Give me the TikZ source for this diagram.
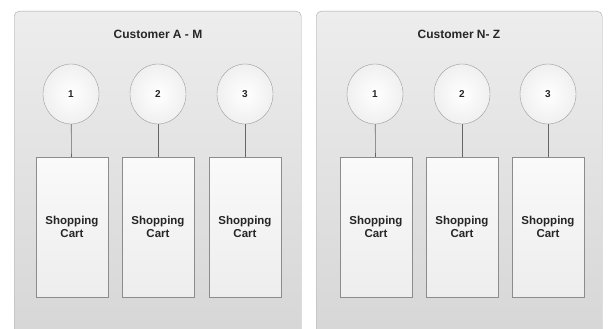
\documentclass[tikz,border=0pt]{standalone}
\usepackage{fontspec}
\setmainfont{Liberation Sans}
\usetikzlibrary{shapes.geometric}
\definecolor{frameline}{HTML}{A8A8A8}
\definecolor{paneltop}{HTML}{EDEDED}
\definecolor{panelbot}{HTML}{D6D6D6}
\definecolor{slotedge}{HTML}{9A9A9A}
\definecolor{cartedge}{HTML}{8C8C8C}
\begin{document}
\begin{tikzpicture}[x=1pt,y=-1pt,
            every node/.style = {font=\bfseries, text=black!85},
            panel/.style = {draw=frameline, rounded corners=5pt, top color=paneltop, bottom color=panelbot,
                            minimum width=287pt, minimum height=330pt, anchor=north west, inner sep=0pt},
            title/.style = {font=\bfseries\fontsize{12}{14}\selectfont},
            slot/.style = {ellipse, draw=slotedge, minimum width=56pt, minimum height=60pt,
                           inner color=white, outer color=black!6, font=\bfseries\fontsize{10}{12}\selectfont},
            cart/.style = {draw=cartedge, minimum width=72pt, minimum height=140pt, inner sep=0pt,
                           top color=black!2, bottom color=black!7, align=center,
                           font=\bfseries\fontsize{11.5}{13}\selectfont},
            link/.style = {draw=black!60, line width=0.6pt}]
            \useasboundingbox[fill=white] (0,0) rectangle (608,329);
            % customer groups
            \node[panel] (groupA) at (14,11) {};
            \node[panel, minimum width=286pt] (groupN) at (316,11) {};
            \node[title] (titleA) at (158,34) {Customer A - M};
            \node[title] (titleN) at (459,34) {Customer N- Z};
            % slots with their carts
            \foreach \g/\xa/\xb/\xc in {A/71/158/245, N/375/462/548} {
                \node[slot] (\g1) at (\xa,94) {1};
                \node[slot] (\g2) at (\xb,94) {2};
                \node[slot] (\g3) at (\xc,94) {3};
                \node[cart] (cart\g1) at (\xa+1,227) {Shopping\\Cart};
                \node[cart] (cart\g2) at (\xb,227) {Shopping\\Cart};
                \node[cart] (cart\g3) at (\xc,227) {Shopping\\Cart};
                \draw[link] (\g1) -- (cart\g1);
                \draw[link] (\g2) -- (cart\g2);
                \draw[link] (\g3) -- (cart\g3);
            }
\end{tikzpicture}
\end{document}
